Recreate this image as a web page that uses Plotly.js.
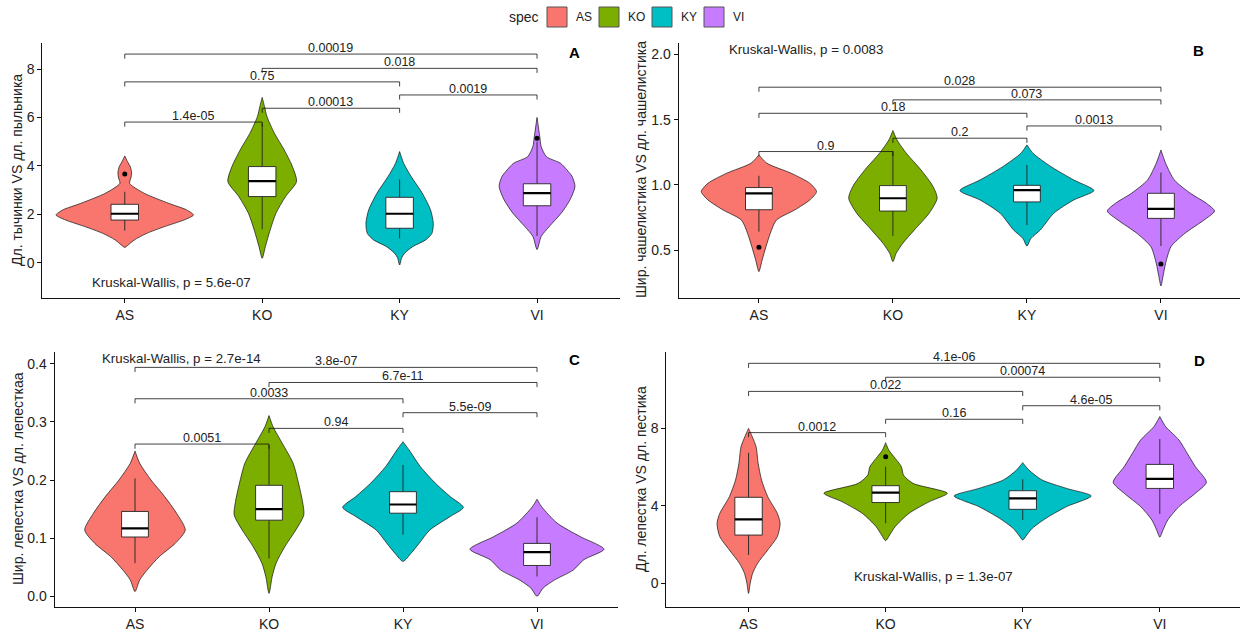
<!DOCTYPE html>
<html>
<head>
<meta charset="utf-8">
<script src="https://cdn.plot.ly/plotly-3.0.1.min.js"></script>
<style>html,body{margin:0;padding:0;background:#fff;}#chart{width:1240px;height:632px;}</style>
</head>
<body>
<div id="chart"></div>
<script>
// ---------- shared ----------
const species = ['AS', 'KO', 'KY', 'VI'];
const colors = ['#F8766D', '#7CAE00', '#00BFC4', '#C77CFF'];
const pairs = [[1, 2], [2, 3], [3, 4], [1, 3], [2, 4], [1, 4]];

// ---------- Panel A: Дл. тычинки VS дл. пыльника ----------
const A_vy = [
  [0.63, 0.73, 0.94, 1.21, 1.49, 1.76, 1.97, 2.18, 2.45, 2.87, 3.28, 3.5, 3.7, 3.97, 4.17, 4.41],
  [0.18, 0.66, 1.35, 2.04, 2.73, 3.35, 3.97, 4.66, 5.34, 6.03, 6.45, 6.83],
  [-0.1, 0.2, 0.39, 0.66, 0.94, 1.21, 1.63, 2.18, 2.87, 3.55, 4.1, 4.59],
  [0.54, 1.08, 1.5, 2.05, 2.6, 3.15, 3.56, 3.83, 4.11, 4.38, 4.8, 5.2, 6.0]
];
const A_vw = [
  [0, 0.025, 0.07, 0.16, 0.29, 0.43, 0.50, 0.45, 0.32, 0.14, 0.035, 0.045, 0.05, 0.04, 0.02, 0],
  [0, 0.023, 0.058, 0.10, 0.17, 0.25, 0.22, 0.16, 0.09, 0.035, 0.017, 0],
  [0, 0.015, 0.037, 0.095, 0.19, 0.235, 0.245, 0.225, 0.165, 0.085, 0.03, 0],
  [0, 0.03, 0.09, 0.177, 0.24, 0.276, 0.255, 0.218, 0.17, 0.068, 0.03, 0.02, 0]
];
const A_q1 = [1.76, 2.73, 1.42, 2.35];
const A_med = [2.02, 3.37, 2.02, 2.87];
const A_q3 = [2.41, 3.97, 2.70, 3.26];
const A_lo = [1.32, 1.38, 1.0, 1.1];
const A_hi = [2.93, 5.75, 3.44, 5.0];
const A_outX = ['AS', 'VI'];
const A_outY = [3.66, 5.14];
const A_brY = [5.81, 6.38, 6.93, 7.47, 8.03, 8.62];
const A_brLab = ['1.4e-05', '0.00013', '0.0019', '0.75', '0.018', '0.00019'];

// ---------- Panel B: Шир. чашелистика VS дл. чашелистика ----------
const B_vy = [
  [0.336, 0.425, 0.527, 0.63, 0.73, 0.81, 0.885, 0.949, 1.013, 1.09, 1.166, 1.23],
  [0.412, 0.476, 0.553, 0.655, 0.783, 0.898, 0.987, 1.115, 1.243, 1.345, 1.417],
  [0.532, 0.59, 0.655, 0.783, 0.885, 0.957, 1.038, 1.14, 1.243, 1.307],
  [0.226, 0.297, 0.4, 0.527, 0.63, 0.73, 0.8, 0.859, 0.936, 1.038, 1.166, 1.268]
];
const B_vw = [
  [0, 0.024, 0.053, 0.085, 0.13, 0.27, 0.38, 0.43, 0.38, 0.24, 0.06, 0],
  [0, 0.024, 0.074, 0.16, 0.27, 0.33, 0.30, 0.21, 0.10, 0.03, 0],
  [0, 0.03, 0.1, 0.2, 0.35, 0.5, 0.35, 0.18, 0.045, 0],
  [0, 0.015, 0.035, 0.075, 0.18, 0.32, 0.40, 0.34, 0.22, 0.10, 0.035, 0]
];
const B_q1 = [0.81, 0.80, 0.87, 0.744];
const B_med = [0.936, 0.898, 0.96, 0.816];
const B_q3 = [0.98, 0.995, 0.997, 0.936];
const B_lo = [0.642, 0.61, 0.693, 0.532];
const B_hi = [1.07, 1.26, 1.153, 1.095];
const B_outX = ['AS', 'VI'];
const B_outY = [0.522, 0.394];
const B_brY = [1.256, 1.358, 1.452, 1.549, 1.652, 1.749];
const B_brLab = ['0.9', '0.2', '0.0013', '0.18', '0.073', '0.028'];

// ---------- Panel C: Шир. лепестка VS дл. лепесткаа ----------
const C_vy = [
  [0.008, 0.028, 0.045, 0.068, 0.091, 0.114, 0.143, 0.172, 0.2, 0.229, 0.25],
  [0.005, 0.034, 0.057, 0.086, 0.114, 0.14, 0.163, 0.195, 0.229, 0.263, 0.292, 0.311],
  [0.06, 0.074, 0.091, 0.114, 0.137, 0.153, 0.172, 0.195, 0.223, 0.252, 0.266],
  [0.0, 0.014, 0.028, 0.045, 0.063, 0.081, 0.103, 0.126, 0.154, 0.167]
];
const C_vw = [
  [0, 0.035, 0.09, 0.18, 0.30, 0.375, 0.31, 0.22, 0.12, 0.035, 0],
  [0, 0.024, 0.053, 0.12, 0.2, 0.26, 0.25, 0.22, 0.18, 0.1, 0.03, 0],
  [0, 0.06, 0.12, 0.2, 0.35, 0.45, 0.35, 0.24, 0.13, 0.045, 0],
  [0, 0.045, 0.13, 0.27, 0.35, 0.5, 0.32, 0.15, 0.035, 0]
];
const C_q1 = [0.102, 0.131, 0.143, 0.053];
const C_med = [0.117, 0.15, 0.158, 0.076];
const C_q3 = [0.146, 0.191, 0.18, 0.091];
const C_lo = [0.057, 0.065, 0.106, 0.034];
const C_hi = [0.203, 0.26, 0.226, 0.136];
const C_outX = [];
const C_outY = [];
const C_brY = [0.262, 0.289, 0.316, 0.340, 0.368, 0.394];
const C_brLab = ['0.0051', '0.94', '5.5e-09', '0.0033', '6.7e-11', '3.8e-07'];

// ---------- Panel D: Дл. лепестка VS дл. пестика ----------
const D_vy = [
  [-0.52, 0, 0.52, 1.03, 1.72, 2.41, 3.1, 3.61, 4.47, 5.33, 6.2, 7.05, 7.6, 8.0],
  [2.2, 2.5, 2.93, 3.61, 4.22, 4.65, 5.16, 5.59, 6.02, 6.54, 6.88, 7.26],
  [2.24, 2.5, 2.84, 3.36, 3.96, 4.51, 4.9, 5.34, 5.85, 6.23],
  [2.38, 2.75, 3.27, 3.96, 4.65, 5.22, 6.02, 6.71, 7.4, 8.09, 8.61]
];
const D_vw = [
  [0, 0.012, 0.03, 0.066, 0.14, 0.21, 0.23, 0.21, 0.14, 0.095, 0.07, 0.055, 0.025, 0],
  [0, 0.03, 0.07, 0.17, 0.32, 0.45, 0.2, 0.13, 0.115, 0.06, 0.023, 0],
  [0, 0.03, 0.07, 0.17, 0.32, 0.5, 0.32, 0.14, 0.045, 0],
  [0, 0.023, 0.058, 0.14, 0.26, 0.34, 0.26, 0.2, 0.14, 0.043, 0]
];
const D_q1 = [2.49, 4.17, 3.82, 4.9];
const D_med = [3.3, 4.68, 4.39, 5.39];
const D_q3 = [4.44, 5.04, 4.78, 6.14];
const D_lo = [1.46, 3.1, 3.27, 3.58];
const D_hi = [6.74, 6.02, 5.37, 7.45];
const D_outX = ['KO'];
const D_outY = [6.54];
const D_brY = [7.78, 8.47, 9.17, 9.91, 10.64, 11.36];
const D_brLab = ['0.0012', '0.16', '4.6e-05', '0.022', '0.00074', '4.1e-06'];

// ---------- Kruskal-Wallis labels and panel tags ----------
const kwText = ['Kruskal-Wallis, p = 5.6e-07', 'Kruskal-Wallis, p = 0.0083', 'Kruskal-Wallis, p = 2.7e-14', 'Kruskal-Wallis, p = 1.3e-07'];
const kwX = [1.34, 1.35, 1.35, 2.35];
const kwY = [-0.83, 2.035, 0.409, 0.34];
const tags = ['A', 'B', 'C', 'D'];
const tagX = [4.27, 4.28, 4.28, 4.29];
const tagY = [8.7, 2.027, 0.407, 11.53];
const yTitles = ['Дл. тычинки VS дл. пыльника', 'Шир. чашелистика VS дл. чашелистика', 'Шир. лепестка VS дл. лепесткаа', 'Дл. лепестка VS дл. пестика'];

// ---------- build ----------
const FONT = 'Liberation Sans, Arial, sans-serif';
const panels = [
  {vy: A_vy, vw: A_vw, q1: A_q1, med: A_med, q3: A_q3, lo: A_lo, hi: A_hi, ox: A_outX, oy: A_outY, by: A_brY, bl: A_brLab},
  {vy: B_vy, vw: B_vw, q1: B_q1, med: B_med, q3: B_q3, lo: B_lo, hi: B_hi, ox: B_outX, oy: B_outY, by: B_brY, bl: B_brLab},
  {vy: C_vy, vw: C_vw, q1: C_q1, med: C_med, q3: C_q3, lo: C_lo, hi: C_hi, ox: C_outX, oy: C_outY, by: C_brY, bl: C_brLab},
  {vy: D_vy, vw: D_vw, q1: D_q1, med: D_med, q3: D_q3, lo: D_lo, hi: D_hi, ox: D_outX, oy: D_outY, by: D_brY, bl: D_brLab}
];
const yRanges = [[-1.45, 9.09], [0.136, 2.09], [-0.019, 0.421], [-1.24, 11.96]];
const HALFBOX = 0.1;
const traces = [];
const annotations = [];

panels.forEach((p, k) => {
  const xa = k === 0 ? 'x' : 'x' + (k + 1);
  const ya = k === 0 ? 'y' : 'y' + (k + 1);
  const span = yRanges[k][1] - yRanges[k][0];
  const tip = span * 0.018;
  // violins
  species.forEach((s, i) => {
    const c = i + 1;
    const ys = p.vy[i], ws = p.vw[i];
    const xs = [], yy = [];
    for (let j = 0; j < ys.length; j++) { xs.push(c + ws[j]); yy.push(ys[j]); }
    for (let j = ys.length - 1; j >= 0; j--) { xs.push(c - ws[j]); yy.push(ys[j]); }
    traces.push({type: 'scatter', mode: 'lines', x: xs, y: yy, xaxis: xa, yaxis: ya,
      fill: 'toself', fillcolor: colors[i], line: {color: '#111', width: 0.7, shape: 'spline', smoothing: 0.7},
      hoverinfo: 'skip', showlegend: false});
  });
  // whiskers
  const wx = [], wy = [];
  species.forEach((s, i) => {
    wx.push(i + 1, i + 1, null, i + 1, i + 1, null);
    wy.push(p.lo[i], p.q1[i], null, p.q3[i], p.hi[i], null);
  });
  traces.push({type: 'scatter', mode: 'lines', x: wx, y: wy, xaxis: xa, yaxis: ya,
    line: {color: '#222', width: 0.9}, hoverinfo: 'skip', showlegend: false});
  // boxes
  species.forEach((s, i) => {
    const c = i + 1;
    traces.push({type: 'scatter', mode: 'lines',
      x: [c - HALFBOX, c + HALFBOX, c + HALFBOX, c - HALFBOX, c - HALFBOX],
      y: [p.q1[i], p.q1[i], p.q3[i], p.q3[i], p.q1[i]],
      xaxis: xa, yaxis: ya, fill: 'toself', fillcolor: '#ffffff',
      line: {color: '#222', width: 0.9}, hoverinfo: 'skip', showlegend: false});
  });
  // thick medians
  const mx = [], my = [];
  p.med.forEach((m, i) => { mx.push(i + 1 - HALFBOX, i + 1 + HALFBOX, null); my.push(m, m, null); });
  traces.push({type: 'scatter', mode: 'lines', x: mx, y: my, xaxis: xa, yaxis: ya,
    line: {color: '#000', width: 2.2}, hoverinfo: 'skip', showlegend: false});
  // outliers
  if (p.ox.length) {
    traces.push({type: 'scatter', mode: 'markers', x: p.ox.map(s => species.indexOf(s) + 1), y: p.oy,
      xaxis: xa, yaxis: ya, marker: {color: '#000', size: 5}, hoverinfo: 'skip', showlegend: false});
  }
  // brackets
  const bx = [], byy = [];
  pairs.forEach((pr, j) => {
    const yv = p.by[j];
    bx.push(pr[0], pr[0], pr[1], pr[1], null);
    byy.push(yv - tip, yv, yv, yv - tip, null);
    annotations.push({xref: xa, yref: ya, x: (pr[0] + pr[1]) / 2, y: yv, text: p.bl[j],
      showarrow: false, yanchor: 'bottom', yshift: -3, font: {family: FONT, size: 12.5, color: '#222'}});
  });
  traces.push({type: 'scatter', mode: 'lines', x: bx, y: byy, xaxis: xa, yaxis: ya,
    line: {color: '#111', width: 0.8}, hoverinfo: 'skip', showlegend: false});
  // Kruskal-Wallis
  annotations.push({xref: xa, yref: ya, x: kwX[k], y: kwY[k], text: kwText[k], showarrow: false,
    font: {family: FONT, size: 13.3, color: '#222'}});
  // tag
  annotations.push({xref: xa, yref: ya, x: tagX[k], y: tagY[k], text: '<b>' + tags[k] + '</b>', showarrow: false,
    font: {family: FONT, size: 15, color: '#000'}});
});

// y-axis titles (paper coords)
const titlePos = [[17, 170], [641, 170], [18, 479], [641, 479]];
yTitles.forEach((t, k) => {
  annotations.push({xref: 'paper', yref: 'paper', x: titlePos[k][0] / 1240, y: 1 - titlePos[k][1] / 632,
    text: t, textangle: -90, showarrow: false, xanchor: 'center', yanchor: 'middle',
    font: {family: FONT, size: 14, color: '#222'}});
});

// legend (manual, top)
const shapes = [];
const legBoxX = [547, 599, 652, 704];
annotations.push({xref: 'paper', yref: 'paper', x: 523.5 / 1240, y: 1 - 17 / 632, text: 'spec', showarrow: false,
  xanchor: 'center', yanchor: 'middle', font: {family: FONT, size: 14, color: '#222'}});
species.forEach((s, i) => {
  shapes.push({type: 'rect', xref: 'paper', yref: 'paper', x0: legBoxX[i] / 1240, x1: (legBoxX[i] + 20) / 1240,
    y0: 1 - 27 / 632, y1: 1 - 7 / 632, fillcolor: colors[i], line: {color: '#555', width: 1}});
  annotations.push({xref: 'paper', yref: 'paper', x: (legBoxX[i] + 27) / 1240, y: 1 - 17 / 632, text: s,
    showarrow: false, xanchor: 'left', yanchor: 'middle', font: {family: FONT, size: 12, color: '#222'}});
});

function xAxis(d0, d1, r1, anchor) {
  return {domain: [d0 / 1240, d1 / 1240], range: [0.4, r1], anchor: anchor, tickmode: 'array',
    tickvals: [1, 2, 3, 4], ticktext: species, showline: true, linecolor: '#111', linewidth: 1,
    ticks: 'outside', ticklen: 4, tickcolor: '#111', showgrid: false, zeroline: false,
    tickfont: {family: FONT, size: 14, color: '#222'}, fixedrange: true};
}
function yAxis(top, bot, range, anchor, vals, fmt) {
  return {domain: [1 - bot / 632, 1 - top / 632], range: range, anchor: anchor, tickmode: 'array',
    tickvals: vals, ticktext: vals.map(v => fmt ? v.toFixed(1) : String(v)), showline: true, linecolor: '#111', linewidth: 1,
    ticks: 'outside', ticklen: 4, tickcolor: '#111', showgrid: false, zeroline: false,
    tickfont: {family: FONT, size: 14, color: '#222'}, fixedrange: true};
}

const layout = {
  width: 1240, height: 632, margin: {l: 0, r: 0, t: 0, b: 0},
  paper_bgcolor: '#fff', plot_bgcolor: 'rgba(0,0,0,0)', showlegend: false,
  font: {family: FONT},
  xaxis: xAxis(42.3, 619.5, 4.6, 'y'),
  yaxis: yAxis(42.7, 297.7, yRanges[0], 'x', [0, 2, 4, 6, 8], false),
  xaxis2: xAxis(678.5, 1240, 4.59, 'y2'),
  yaxis2: yAxis(42.7, 297.7, yRanges[1], 'x2', [0.5, 1.0, 1.5, 2.0], true),
  xaxis3: xAxis(54.6, 618.2, 4.606, 'y3'),
  yaxis3: yAxis(351.7, 607.3, yRanges[2], 'x3', [0, 0.1, 0.2, 0.3, 0.4], true),
  xaxis4: xAxis(666.3, 1240, 4.585, 'y4'),
  yaxis4: yAxis(351.7, 607.3, yRanges[3], 'x4', [0, 4, 8], false),
  annotations: annotations,
  shapes: shapes
};

Plotly.newPlot('chart', traces, layout, {staticPlot: true, displayModeBar: false});
</script>
</body>
</html>
